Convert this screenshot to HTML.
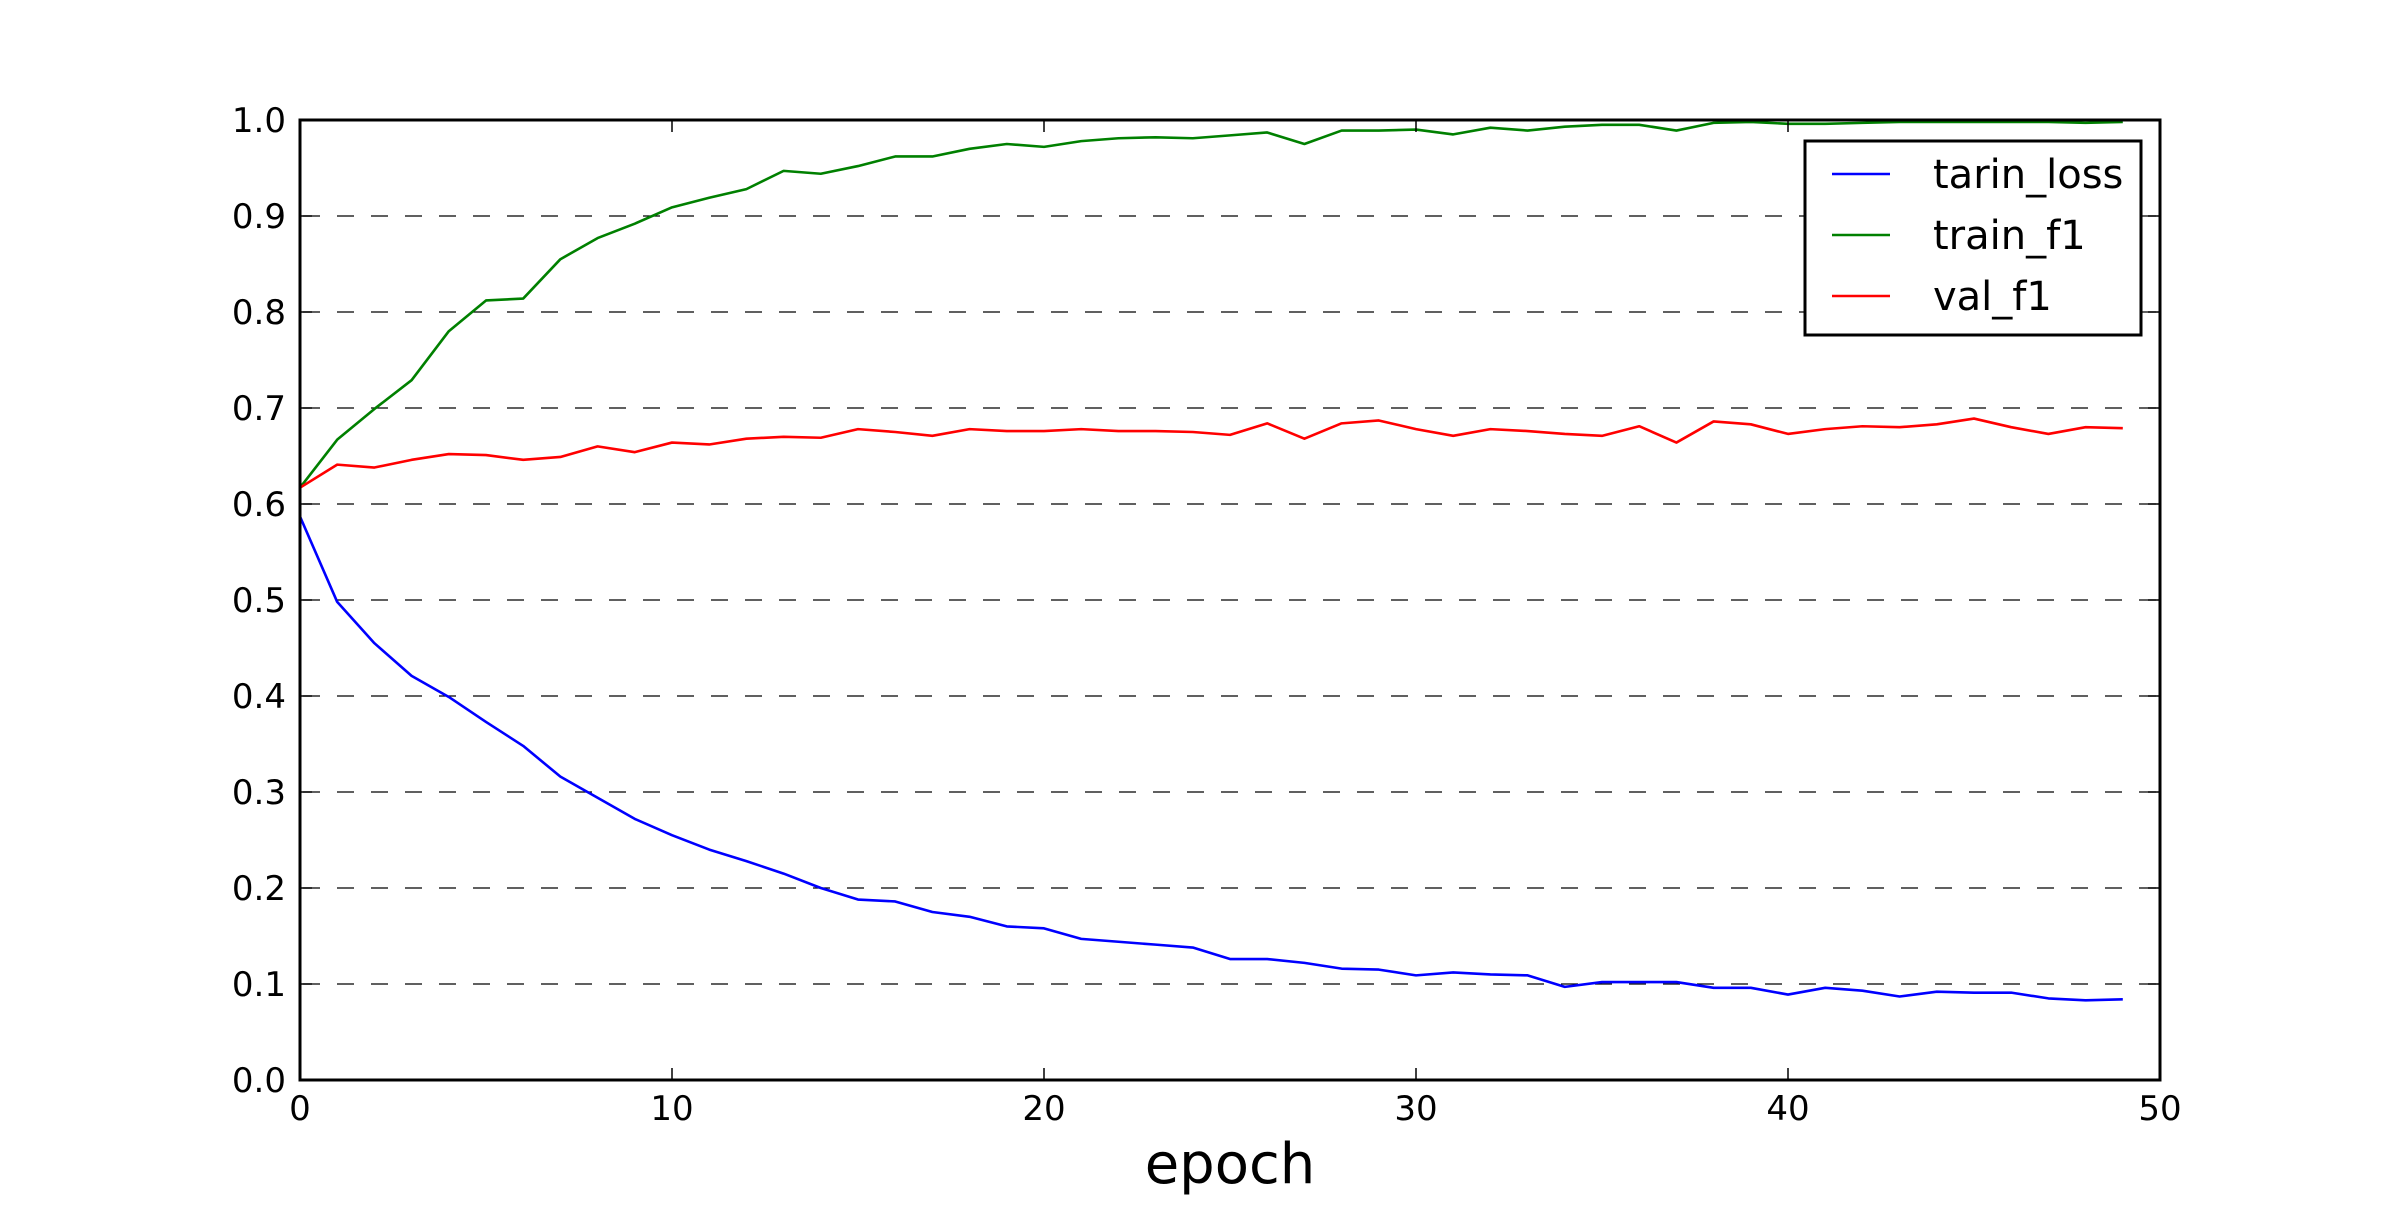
<!DOCTYPE html>
<html><head><meta charset="utf-8"><style>
html,body{margin:0;padding:0;background:#fff;}
svg text{font-family:"DejaVu Sans","Liberation Sans",sans-serif;fill:#000;}
</style></head><body>
<svg id="chart" width="2400" height="1200" viewBox="0 0 2400 1200" xmlns="http://www.w3.org/2000/svg">
<rect width="2400" height="1200" fill="#fff"/>
<g id="grid"></g><g id="series"></g><g id="axes"></g><g id="legend"></g>
</svg>
<script>
const epochs = Array.from({length:50},(_,i)=>i);
const trainLoss = [0.587,0.498,0.455,0.421,0.399,0.373,0.348,0.316,0.294,0.272,0.255,0.240,0.228,0.215,0.200,0.188,0.186,0.175,0.170,0.160,0.158,0.147,0.144,0.141,0.138,0.126,0.126,0.122,0.116,0.115,0.109,0.112,0.110,0.109,0.097,0.102,0.102,0.102,0.096,0.096,0.089,0.096,0.093,0.087,0.092,0.091,0.091,0.085,0.083,0.084];
const trainF1 = [0.617,0.667,0.699,0.729,0.780,0.812,0.814,0.855,0.877,0.892,0.909,0.919,0.928,0.947,0.944,0.952,0.962,0.962,0.970,0.975,0.972,0.978,0.981,0.982,0.981,0.984,0.987,0.975,0.989,0.989,0.990,0.985,0.992,0.989,0.993,0.995,0.995,0.989,0.997,0.998,0.996,0.996,0.997,0.998,0.998,0.998,0.998,0.998,0.997,0.998];
const valF1 = [0.617,0.641,0.638,0.646,0.652,0.651,0.646,0.649,0.660,0.654,0.664,0.662,0.668,0.670,0.669,0.678,0.675,0.671,0.678,0.676,0.676,0.678,0.676,0.676,0.675,0.672,0.684,0.668,0.684,0.687,0.678,0.671,0.678,0.676,0.673,0.671,0.681,0.664,0.686,0.683,0.673,0.678,0.681,0.680,0.683,0.689,0.680,0.673,0.680,0.679];
const yTicks = [0.0,0.1,0.2,0.3,0.4,0.5,0.6,0.7,0.8,0.9,1.0];
const xTicks = [0,10,20,30,40,50];
const seriesNames = ["tarin_loss","train_f1","val_f1"];

const L=300,R=2160,T=120,B=1080;
const xs=v=>L+(v-0)/(50-0)*(R-L);
const ys=v=>B-(v-0)/(1-0)*(B-T);
const NS="http://www.w3.org/2000/svg";
function mk(tag,attrs,parent){const e=document.createElementNS(NS,tag);for(const k in attrs)e.setAttribute(k,attrs[k]);parent.appendChild(e);return e;}
const grid=document.getElementById('grid'),series=document.getElementById('series'),axes=document.getElementById('axes'),legend=document.getElementById('legend');

yTicks.forEach(v=>{
  if(v>0&&v<1){const g=mk('line',{x1:L,x2:R,y1:ys(v),y2:ys(v),stroke:'#000','stroke-width':1.2,'stroke-dasharray':'17,17','stroke-dashoffset':'-3'},grid);
  
  }
  const t=mk('line',{x1:L,x2:L+12,y1:ys(v),y2:ys(v),stroke:'#000','stroke-width':1.5},axes);
  
  
  const t2=mk('line',{x1:R-12,x2:R,y1:ys(v),y2:ys(v),stroke:'#000','stroke-width':1.5},axes);
  
  
  const lb=mk('text',{x:L-14,y:ys(v)+12,'text-anchor':'end','font-size':34},axes);
  lb.textContent=v.toFixed(1);
  
  
});
xTicks.forEach(v=>{
  const t=mk('line',{x1:xs(v),x2:xs(v),y1:B,y2:B-12,stroke:'#000','stroke-width':1.5},axes);
  
  
  const t2=mk('line',{x1:xs(v),x2:xs(v),y1:T,y2:T+12,stroke:'#000','stroke-width':1.5},axes);
  
  
  const lb=mk('text',{x:xs(v),y:B+40,'text-anchor':'middle','font-size':34},axes);
  lb.textContent=String(v);
  
  
});
const colors=['#0000ff','#008000','#ff0000'];
[trainLoss,trainF1,valF1].forEach((arr,i)=>{
  const p=mk('polyline',{points:arr.map((v,j)=>xs(epochs[j])+','+ys(v)).join(' '),fill:'none',stroke:colors[i],'stroke-width':2.6,'stroke-linejoin':'round'},series);
  
  
});
const frame=mk('rect',{x:L,y:T,width:R-L,height:B-T,fill:'none',stroke:'#000','stroke-width':3},axes);


const xl=mk('text',{x:(L+R)/2,y:1183,'text-anchor':'middle','font-size':56},axes);
xl.textContent='epoch';



const lbox=mk('rect',{x:1805,y:141,width:336,height:194,fill:'#fff',stroke:'#000','stroke-width':3},legend);


seriesNames.forEach((n,i)=>{
  const y=174+i*61;
  const ln=mk('line',{x1:1832,x2:1890,y1:y,y2:y,stroke:colors[i],'stroke-width':2.6},legend);
  
  
  const tx=mk('text',{x:1933,y:y+14,'font-size':40},legend);
  tx.textContent=n;
  
  
});
</script>
</body></html>
